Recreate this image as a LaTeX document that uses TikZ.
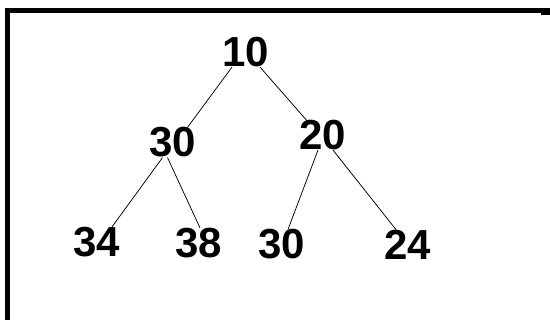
\documentclass[tikz,border=0pt]{standalone}
\usepackage{fontspec}
\setmainfont{Liberation Sans}
\usetikzlibrary{calc}
\begin{document}
\begin{tikzpicture}[x=1pt,y=-1pt,
  key/.style={inner sep=0pt,font=\bfseries\fontsize{42}{42}\selectfont},
  edge/.style={draw=black,line width=0.75pt}]
  \useasboundingbox (0,0) rectangle (550,320);
  \fill[white] (0,0) rectangle (550,320);
  % frame: heavy top and left rules
  \fill[black] (5,8) rectangle (550,13.3);
  \fill[black] (541,8) rectangle (550,15);
  \fill[black] (5,8) rectangle (10,320);
  % heap keys
  \node[key] (n10) at (245.5,52) {10};
  \node[key] (n30) at (173,142.5) {30};
  \node[key] (n20) at (323,135) {20};
  \node[key] (n34) at (97,242) {34};
  \node[key] (n38) at (198.5,243) {38};
  \node[key] (n30b) at (281.5,244.5) {30};
  \node[key] (n24) at (407.5,244.5) {24};
  % parent-child links
  \draw[edge] ($(n10.south)+(-13.5,0)$) -- ($(n30.north)+(14.5,0)$);
  \draw[edge] ($(n10.south)+(14.5,0)$) -- ($(n20.north)+(-15,2)$);
  \draw[edge] ($(n30.south)+(-10.5,0)$) -- ($(n34.north)+(15,0)$);
  \draw[edge] ($(n30.south)+(-5.5,0)$) -- ($(n38.north)+(1.5,0)$);
  \draw[edge] ($(n20.south)+(-5,0)$) -- ($(n30b.north)+(6.5,0)$);
  \draw[edge] ($(n20.south)+(10,0)$) -- ($(n24.north)+(-11.5,0)$);
\end{tikzpicture}
\end{document}
